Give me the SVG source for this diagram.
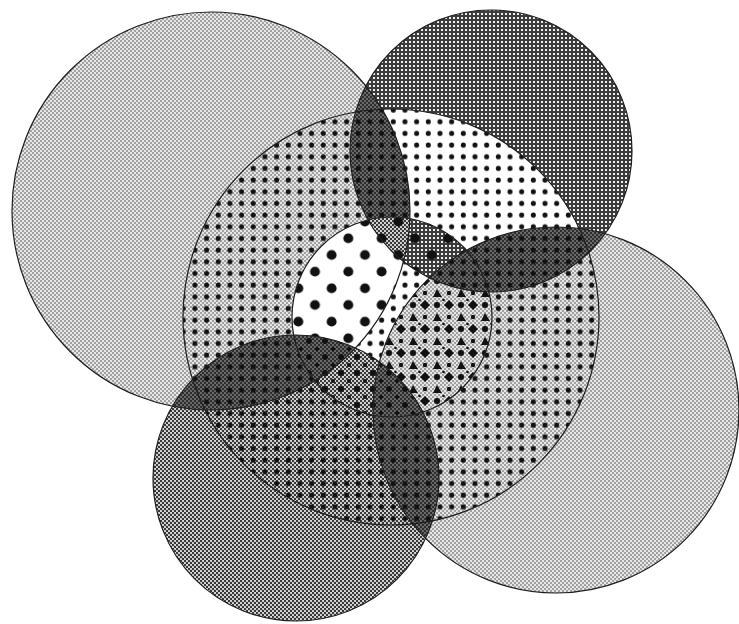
<svg xmlns="http://www.w3.org/2000/svg" width="739" height="624" viewBox="0 0 739 624">
<defs>
  <circle id="A" cx="211" cy="211" r="199"/>
  <circle id="B" cx="491" cy="151" r="141"/>
  <circle id="C" cx="391" cy="317" r="208"/>
  <circle id="D" cx="556" cy="410" r="183"/>
  <circle id="E" cx="296" cy="478" r="143"/>
  <circle id="H" cx="392" cy="317" r="100"/>
  <clipPath id="cA"><circle cx="211" cy="211" r="199"/></clipPath>
  <clipPath id="cB"><circle cx="491" cy="151" r="141"/></clipPath>
  <clipPath id="cC"><circle cx="391" cy="317" r="208"/></clipPath>
  <clipPath id="cD"><circle cx="556" cy="410" r="183"/></clipPath>
  <clipPath id="cE"><circle cx="296" cy="478" r="143"/></clipPath>
  <clipPath id="cH"><circle cx="392" cy="317" r="100"/></clipPath>
  <pattern id="lt" width="4" height="4" patternUnits="userSpaceOnUse">
    <rect width="4" height="4" fill="#e6e6e6"/>
    <circle cx="1" cy="1" r="0.8" fill="#4a4a4a"/>
    <circle cx="3" cy="3" r="0.8" fill="#4a4a4a"/>
  </pattern>
  <pattern id="dk" width="4" height="4" patternUnits="userSpaceOnUse">
    <rect width="4" height="4" fill="#3c3c3c"/>
    <rect x="1" y="1" width="2" height="2" fill="#eeeeee"/>
  </pattern>
  <pattern id="md" width="4" height="4" patternUnits="userSpaceOnUse">
    <rect width="4" height="4" fill="#d8d8d8"/>
    <circle cx="1" cy="1" r="1.15" fill="#303030"/>
    <circle cx="3" cy="3" r="1.15" fill="#303030"/>
  </pattern>
  <pattern id="ln" width="4" height="4" patternUnits="userSpaceOnUse">
    <rect width="4" height="4" fill="#2e2e2e"/>
    <circle cx="1" cy="1" r="0.8" fill="#b4b4b4"/>
    <circle cx="3" cy="3" r="0.8" fill="#b4b4b4"/>
  </pattern>
  <pattern id="sd" width="11.67" height="11.67" patternUnits="userSpaceOnUse">
    <circle cx="8.2" cy="5" r="2.5" fill="#111"/>
  </pattern>
  <pattern id="bd" x="6.67" y="-3.33" width="33.33" height="33.33" patternUnits="userSpaceOnUse">
    <circle cx="8.33" cy="8.33" r="5" fill="#111"/>
    <circle cx="25" cy="25" r="5" fill="#111"/>
  </pattern>
  <pattern id="tri" width="24" height="24" patternUnits="userSpaceOnUse">
    <polygon points="1,9 10,9 5,1" fill="#111"/>
    <circle cx="17" cy="5" r="2.2" fill="#111"/>
    <circle cx="5" cy="17" r="3" fill="#111"/>
    <polygon points="17,12 22,17 17,22 12,17" fill="#111"/>
    <circle cx="11.5" cy="12" r="1.3" fill="#111"/>
  </pattern>
  <pattern id="sp" width="16" height="16" patternUnits="userSpaceOnUse">
    <circle cx="5" cy="5" r="3" fill="#111"/>
    <circle cx="13" cy="13" r="2" fill="#111"/>
  </pattern>
</defs>

<rect width="739" height="624" fill="#ffffff"/>

<!-- outer circles -->
<g id="base">
  <use href="#A" fill="url(#lt)"/>
  <use href="#D" fill="url(#lt)"/>
  <use href="#B" fill="url(#dk)"/>
  <use href="#E" fill="url(#md)"/>
  <g clip-path="url(#cC)"><use href="#B" fill="#ffffff"/></g>
</g>

<!-- lenses between neighbouring outer circles -->
<g id="lenses">
  <g clip-path="url(#cA)"><use href="#B" fill="url(#ln)"/></g>
  <g clip-path="url(#cB)"><use href="#D" fill="url(#ln)"/></g>
  <g clip-path="url(#cE)"><use href="#A" fill="url(#ln)"/></g>
  <g clip-path="url(#cE)"><use href="#D" fill="url(#ln)"/></g>
</g>

<!-- dots of the big central circle -->
<use href="#C" fill="url(#sd)"/>

<!-- inner circle -->
<g id="inner" clip-path="url(#cH)">
  <use href="#H" fill="#ffffff"/>
  <use href="#H" fill="url(#sd)"/>
  <use href="#A" fill="#ffffff"/>
  <use href="#A" fill="url(#bd)"/>
  <use href="#D" fill="url(#lt)"/>
  <use href="#D" fill="url(#tri)"/>
  <use href="#B" fill="url(#dk)"/>
  <use href="#B" fill="url(#bd)"/>
  <use href="#E" fill="url(#md)"/>
  <use href="#E" fill="url(#sp)"/>
  <g clip-path="url(#cA)"><use href="#B" fill="url(#md)"/><use href="#B" fill="url(#bd)"/></g>
  <g clip-path="url(#cB)"><use href="#D" fill="url(#ln)"/><use href="#D" fill="url(#sd)"/></g>
  <g clip-path="url(#cE)"><use href="#A" fill="url(#ln)"/><use href="#A" fill="url(#sp)"/></g>
  <g clip-path="url(#cE)"><use href="#D" fill="url(#ln)"/><use href="#D" fill="url(#sp)"/></g>
</g>

<!-- outlines -->
<g id="outlines" fill="none" stroke="#1e1e1e" stroke-width="1.2">
  <use href="#A"/>
  <use href="#B"/>
  <use href="#C"/>
  <use href="#D"/>
  <use href="#E"/>
  <use href="#H"/>
</g>
</svg>
